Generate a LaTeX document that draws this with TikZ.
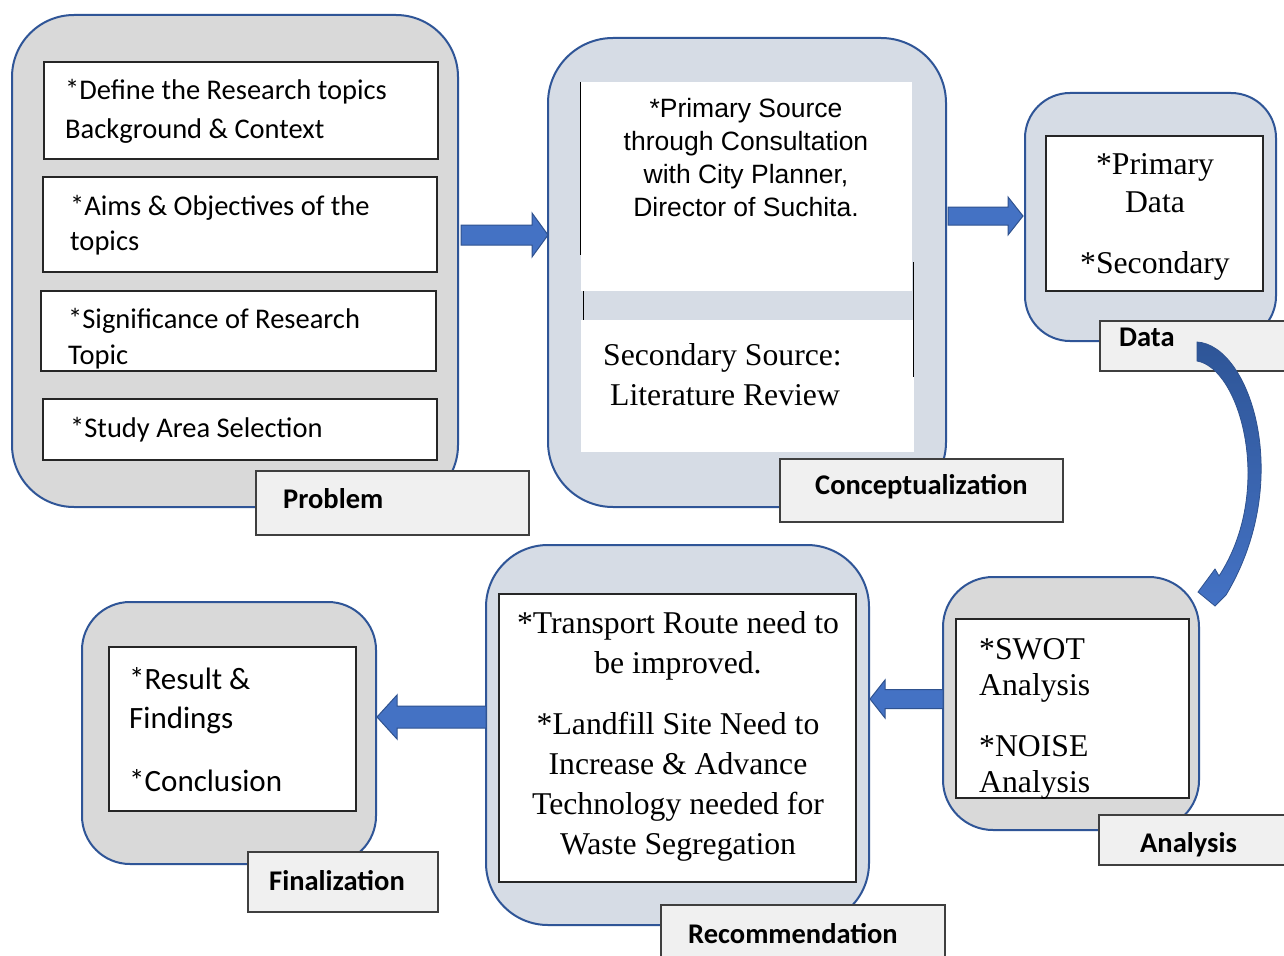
\documentclass[tikz,border=0pt]{standalone}
\usepackage{fontspec}
\setmainfont{Liberation Serif}
\newfontfamily\calibri{Carlito}
\newfontfamily\arial{Liberation Sans}
\usetikzlibrary{calc}

\definecolor{frameblue}{HTML}{2F5597}
\definecolor{panelgray}{HTML}{D9D9D9}
\definecolor{panelblue}{HTML}{D6DCE5}
\definecolor{arrowfill}{HTML}{4472C4}
\definecolor{arrowedge}{HTML}{2F528F}
\definecolor{curvetop}{HTML}{2E5597}
\definecolor{tabfill}{HTML}{F0F0F0}
\definecolor{tabedge}{HTML}{3F3F3F}

\tikzset{
  panel/.style={draw=frameblue, line width=2pt, rounded corners=#1, inner sep=0pt},
  graypanel/.style={panel=#1, fill=panelgray},
  bluepanel/.style={panel=#1, fill=panelblue},
  itembox/.style={draw=black!85, line width=1.1pt, fill=white, inner sep=0pt},
  blankbox/.style={fill=white, inner sep=0pt},
  tab/.style={draw=tabedge, line width=1.3pt, fill=tabfill, inner sep=0pt},
  tabtext/.style={font=\calibri\bfseries\fontsize{28.5}{32}\selectfont, anchor=west, inner sep=0pt},
  sanstext/.style={font=\calibri\fontsize{28.5}{#1}\selectfont, align=left, anchor=west, inner sep=0pt},
  serifcentre/.style={font=\fontsize{31.7}{#1}\selectfont, align=center, inner sep=0pt},
  serifleft/.style={font=\fontsize{31.7}{#1}\selectfont, align=left, anchor=west, inner sep=0pt},
  blockarrow/.style={fill=arrowfill, draw=arrowedge, line width=1pt, line join=miter},
}

% rectangle node from its corners: style, x0, y0, x1, y1, name
\newcommand{\cornerbox}[6]{%
  \node[#1, minimum width={#4-#2}, minimum height={#5-#3}] (#6) at ({(#2+#4)/2},{(#3+#5)/2}) {};}

% horizontal block arrow: tail x, tip x, centre y, shaft half width, head half width, head length (signed)
\newcommand{\flatarrow}[6]{%
  \filldraw[blockarrow] (#1,#3-#4) -- (#2-#6,#3-#4) -- (#2-#6,#3-#5) -- (#2,#3)
    -- (#2-#6,#3+#5) -- (#2-#6,#3+#4) -- (#1,#3+#4) -- cycle;}

\begin{document}
\begin{tikzpicture}[x=1pt,y=-1pt]
\useasboundingbox (0,0) rectangle (1284,955);
\clip (0,0) rectangle (1284,955);
\fill[white] (0,0) rectangle (1284,955);

% ---------- panels ----------
\cornerbox{graypanel=62pt}{12}{15}{458}{507}{prob}
\cornerbox{bluepanel=65pt}{548}{38}{946}{507}{conc}
\cornerbox{bluepanel=45pt}{1025}{93}{1276}{341}{data}
\cornerbox{graypanel=50pt}{943}{577}{1199}{830}{anal}
\cornerbox{bluepanel=62pt}{486}{545}{869}{925}{reco}
\cornerbox{graypanel=48pt}{82}{602}{376}{864}{fina}

% ---------- Problem ----------
\cornerbox{itembox}{44}{62}{438}{159}{p1}
\cornerbox{itembox}{43}{177}{437}{272}{p2}
\cornerbox{itembox}{41}{291}{436}{371}{p3}
\cornerbox{itembox}{43}{399}{437}{460}{p4}
\node[sanstext=39] (p1t) at (65,111.5) {*Define the Research topics\\Background \& Context};
\node[sanstext=35] (p2t) at (70,225.5) {*Aims \& Objectives of the\\topics};
\node[sanstext=36] (p3t) at (68,339) {*Significance of Research\\Topic};
\node[sanstext=30] (p4t) at (70,430) {*Study Area Selection};

% ---------- Conceptualization ----------
\cornerbox{blankbox}{581}{82}{912}{291}{c1}
\cornerbox{blankbox}{581}{320}{914}{452}{c2}
\draw[line width=1pt] (580,82) -- (580,255);
\draw[line width=1pt] (913,262) -- (913,377);
\draw[line width=1pt] (583,291) -- (583,320);
\node[font=\arial\fontsize{26.5}{33}\selectfont, align=center, inner sep=0pt] (c1t) at (746,157.5)
  {*Primary Source\\through Consultation\\with City Planner,\\Director of Suchita.};
\node[serifleft=40] (c2t) at (603,375) {Secondary Source:\\\hspace*{7pt}Literature Review};

% ---------- Data ----------
\cornerbox{itembox}{1046}{136}{1263}{291}{d1}
\node[serifcentre=38] (d1t) at (1155,216.5) {*Primary\\Data\\[23pt]*Secondary};

% ---------- Analysis ----------
\cornerbox{itembox}{956}{619}{1189}{798}{a1}
\node[serifleft=36] (a1t) at (979,718.5) {*SWOT\\Analysis\\[25pt]*NOISE\\Analysis};

% ---------- Recommendation ----------
\cornerbox{itembox}{499}{594}{856}{882}{r1}
\node[serifcentre=40] (r1t) at (678,736)
  {*Transport Route need to\\be improved.\\[21pt]*Landfill Site Need to\\Increase \& Advance\\Technology needed for\\Waste Segregation};

% ---------- Finalization ----------
\cornerbox{itembox}{109}{647}{356}{811}{f1}
\node[font=\calibri\fontsize{31}{39}\selectfont, align=left, anchor=west, inner sep=0pt] (f1t) at (129,730)
  {*Result \&\\Findings\\[24pt]*Conclusion};

% ---------- stage tabs ----------
\cornerbox{tab}{256}{471}{529}{535}{probtab}
\cornerbox{tab}{780}{459}{1063}{522}{conctab}
\cornerbox{tab}{1100}{321}{1300}{371}{datatab}
\cornerbox{tab}{1099}{815}{1300}{865}{analtab}
\cornerbox{tab}{661}{905}{945}{970}{recotab}
\cornerbox{tab}{248}{852}{438}{912}{finatab}
\node[tabtext] (probl) at (283,499) {Problem};
\node[tabtext] (concl) at (815,487) {Conceptualization};
\node[tabtext] (datal) at (1119,337) {Data};
\node[tabtext] (anall) at (1140,845) {Analysis};
\node[tabtext] (recol) at (688,934) {Recommendation};
\node[tabtext] (final) at (269,881) {Finalization};

% ---------- flow arrows ----------
\flatarrow{461}{548}{235}{10}{22}{16}
\flatarrow{948}{1023}{216}{9}{19}{15}
\flatarrow{943}{870}{699}{9.5}{19}{-15}
\flatarrow{486}{377}{717}{11}{22}{-20}

% curved arrow from Data down to Analysis
\path[top color=curvetop, bottom color=arrowfill, draw=arrowedge, line width=0.8pt, line join=miter]
  (1197,342) .. controls (1250,345) and (1295,480) .. (1226,595)
  -- (1215,606) -- (1198,592) -- (1215,569) -- (1219,576)
  .. controls (1275,490) and (1240,368) .. (1197,361) -- cycle;
\end{tikzpicture}
\end{document}
